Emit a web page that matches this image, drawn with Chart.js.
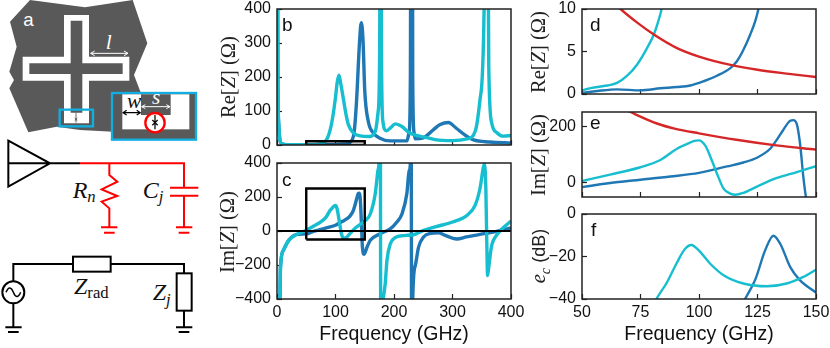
<!DOCTYPE html>
<html>
<head>
<meta charset="utf-8">
<script src="https://cdn.jsdelivr.net/npm/chart.js@4"></script>
<style>
  html, body { margin: 0; padding: 0; background: #fff; }
  #page { position: relative; width: 830px; height: 348px; overflow: hidden; font-family: "Liberation Sans", sans-serif; }
  #page canvas, #schematic { position: absolute; }
  #schematic { left: 0; top: 0; }
  .ylab { position: absolute; white-space: nowrap; transform: translate(-50%, -50%) rotate(-90deg); font: 20.5px "Liberation Serif", serif; color: #222; }
  .ylab i { font-style: italic; }
  .ylab sub { font-size: 14px; line-height: 0; }
  .ylab .sans { font-family: "Liberation Sans", sans-serif; font-size: 18px; }
  .letter { position: absolute; font-size: 19px; line-height: 19px; color: #111; }
</style>
</head>
<body>
<div id="page">
  <svg id="schematic" width="830" height="348" viewBox="0 0 2490 1044" font-family="Liberation Serif, serif" fill="none">
    <!-- chip -->
    <path d="M90 0 L255 22 L398 0 L442 130 L402 225 L425 285 L340 395 L240 390 L170 380 L85 397 L28 265 L42 240 L28 215 L50 140 L30 65 Z" fill="#595959"/>
    <path d="M192 45 H267 V170 H388 V242 H267 V370 H192 V242 H68 V170 H192 Z" fill="#fff"/>
    <path d="M212 62 H247 V190 H368 V222 H247 V338 H212 V222 H88 V190 H212 Z" fill="#595959"/>
    <rect x="179" y="329" width="100" height="50" stroke="#12aee0" stroke-width="7"/>
    <path d="M228 338 V368 M224 354 L232 362 M232 354 L224 362" stroke="#222" stroke-width="2"/>
    <text x="70" y="78" font-family="Liberation Sans, sans-serif" font-size="56" fill="#fff">a</text>
    <text x="317" y="148" font-size="64" font-style="italic" fill="#fff">l</text>
    <path d="M272 160 H384 M284 153 L272 160 L284 167 M372 153 L384 160 L372 167" stroke="#fff" stroke-width="3"/>
    <!-- inset -->
    <rect x="336" y="279" width="252" height="140" fill="#595959" stroke="#12aee0" stroke-width="7"/>
    <rect x="367" y="283" width="201" height="105" fill="#fff"/>
    <rect x="423" y="283" width="89" height="62" fill="#595959"/>
    <circle cx="465" cy="368" r="29" fill="#fff" stroke="#f00" stroke-width="7"/>
    <path d="M465 345 V388 M457 360 L473 376 M473 360 L457 376" stroke="#111" stroke-width="4"/>
    <path d="M369 338 H421 M380 331 L369 338 L380 345 M410 331 L421 338 L410 345" stroke="#000" stroke-width="3.5"/>
    <path d="M425 320 H510 M436 314 L425 320 L436 326 M499 314 L510 320 L499 326" stroke="#fff" stroke-width="3"/>
    <text x="381" y="323" font-size="64" font-style="italic" fill="#111">w</text>
    <text x="456" y="312" font-size="64" font-style="italic" fill="#fff">s</text>
    <!-- antenna + junction circuit -->
    <g transform="translate(0,390)" stroke-width="6">
      <path d="M25 32 L150 100 L25 170 Z M25 100 H240" stroke="#000"/>
      <path d="M240 100 H552 V173 M328 100 V135 L352 155 L305 178 L352 198 L305 215 L328 235 V292 M303 292 H352 M312 308 H344 M510 173 H595 M510 197 H595 M552 197 V292 M528 292 H577 M536 308 H568" stroke="#f00"/>
      <text x="218" y="203" font-size="72" font-style="italic" fill="#111">R<tspan dy="14" font-size="50">n</tspan></text>
      <text x="428" y="203" font-size="72" font-style="italic" fill="#111">C<tspan dy="14" font-size="50">j</tspan></text>
      <!-- source circuit -->
      <path d="M40 454 V402 H219 M332 402 H552 V430 M552 542 V592 M528 592 H577 M536 606 H568 M40 520 V592 M16 592 H65 M24 606 H56" stroke="#000"/>
      <circle cx="40" cy="487" r="33" stroke="#000"/>
      <path d="M18 487 C26 468 34 472 40 487 C46 502 54 506 62 487" stroke="#000" stroke-width="4.5"/>
      <rect x="219" y="380" width="113" height="45" stroke="#000"/>
      <rect x="530" y="430" width="45" height="112" stroke="#000"/>
      <text x="222" y="493" font-size="72" font-style="italic" fill="#111">Z<tspan dy="12" font-size="50" font-style="normal">rad</tspan></text>
      <text x="458" y="510" font-size="72" font-style="italic" fill="#111">Z<tspan dy="14" font-size="50">j</tspan></text>
    </g>
  </svg>

  <canvas id="chartB"></canvas>
  <canvas id="chartC"></canvas>
  <canvas id="chartD"></canvas>
  <canvas id="chartE"></canvas>
  <canvas id="chartF"></canvas>

  <div class="ylab" style="left:228px;top:77px">Re[<i>Z</i>] (Ω)</div>
  <div class="ylab" style="left:227px;top:232px">Im[<i>Z</i>] (Ω)</div>
  <div class="ylab" style="left:538px;top:52px">Re[<i>Z</i>] (Ω)</div>
  <div class="ylab" style="left:538px;top:155px">Im[<i>Z</i>] (Ω)</div>
  <div class="ylab" style="left:538px;top:256px"><i>e<sub>c</sub></i> <span class="sans">(dB)</span></div>

  <div class="letter" style="left:282px;top:15px">b</div>
  <div class="letter" style="left:282px;top:170px">c</div>
  <div class="letter" style="left:590px;top:15px">d</div>
  <div class="letter" style="left:590px;top:113px">e</div>
  <div class="letter" style="left:591px;top:220px">f</div>
</div>

<script>
// tick lists
const ticksWideX = [0, 100, 200, 300, 400];
const ticksZoomX = [50, 75, 100, 125, 150];
const ticksReWide = [0, 100, 200, 300, 400];
const ticksImWide = [-400, -200, 0, 200, 400];
const ticksReZoom = [0, 5, 10];
const ticksImZoom = [0, 200];
const ticksDb = [-40, -20, 0];

// panel b, Re[Z] 0-400 GHz
const reWideCyanF = [0.5, 1.5, 3, 5, 8, 12, 20, 35, 50, 60, 70, 75, 80, 82, 86, 91, 96, 100, 103, 106, 109, 114, 118, 122, 131, 142, 159, 168, 173, 175.5, 177, 178.5, 181, 187, 195, 202, 213, 227, 244, 250, 270, 300, 325, 339, 347, 354, 357.5, 362, 367, 376, 387, 400];
const reWideCyanV = [900, 200, 60, 15, 4, 2, 1, 0.8, 0.4, 1, 2.2, 4, 7, 10, 20, 45, 90, 140, 185, 205, 180, 130, 90, 60, 35, 27, 25, 40, 100, 280, 1600, 280, 70, 42, 52, 62, 55, 35, 26, 24, 16, 13, 18, 41, 133, 400, 1500, 230, 65, 36, 26, 28];
const reWideBlueF = [0.5, 1.5, 3, 5, 8, 12, 20, 35, 50, 70, 90, 100, 113, 120, 125, 132, 136, 141, 144, 147, 150, 156, 165, 176, 193, 222, 226, 228, 230, 232, 234, 236, 250, 268, 279, 293, 306, 320, 336, 364, 400];
const reWideBlueV = [900, 200, 60, 15, 4, 2, 1, 0.8, 0.1, 0.5, 0.7, 1, 3, 4, 8, 40, 130, 300, 360, 310, 160, 70, 35, 20, 12, 12, 40, 200, 2500, 200, 40, 18, 21, 46, 60, 66, 50, 31, 15, 9, 6];
const markBandF = [50, 50, 150, 150, 50];
const markBandV = [0, 11, 11, 0, 0];

// panel c, Im[Z] 0-400 GHz
const imWideCyanF = [2, 5, 6, 11, 20, 34, 50, 62, 75, 83.5, 90.6, 96, 98, 99.9, 102.7, 105.5, 107.7, 110.5, 113.4, 115.5, 119, 125, 133, 141.8, 150, 159.5, 168, 172.6, 175, 176.5, 177.5, 179, 181.5, 185, 188, 193.7, 202, 216.5, 233.5, 250.5, 270, 300, 325, 338.6, 347, 353, 354.5, 357, 358.5, 360, 362.3, 367, 375, 384, 392.6, 400];
const imWideCyanV = [-1000, -400, -210, -113, -55, -20, 5, 28, 54, 80, 120, 141, 148, 150, 131, 78, 31, -22, -40, -44, -37, -14, 15, 37, 58, 100, 220, 356, 450, 1000, -1000, -500, -400, -310, -172, -75, -39, -27, -22, 4, 24, 53, 93, 151, 250, 378, 392, 250, -45, -262, -203, -85, -26, 10, 37, 59];
const imWideBlueF = [2, 5, 6, 11, 20, 34, 50, 62, 75, 87.8, 100, 112, 119, 125, 130.4, 133, 136, 139, 140.3, 141.8, 143.2, 144.6, 146, 149, 154, 159.5, 176.6, 194, 205, 213.6, 222, 226, 228, 229, 230.5, 232, 236.4, 242, 250.5, 262, 276, 287.5, 307, 324, 347, 375, 400];
const imWideBlueV = [-1000, -400, -210, -113, -55, -20, -17, -2, 9.5, 21, 34, 57, 71, 89, 120, 149, 187, 220, 222, 208, 137, 19, -94, -137, -94, -55, -16, 14, 53, 100, 220, 356, 400, 1200, -1200, -400, -203, -95, -35, -14, -10, -26, -47, -35, -20, -2, 18];
const zeroLineF = [0, 400];
const zeroLineV = [0, 0];
const boxF = [50, 150, 150, 50, 50];
const boxV = [-50, -50, 250, 250, -50];

// panel d, Re[Z] 50-150 GHz
const reZoomCyanF = [50, 53.7, 60.8, 65, 69.3, 73.5, 77.8, 80.7, 82.8, 84, 86];
const reZoomCyanV = [0.43, 0.7, 1.0, 1.3, 2.15, 3.45, 5.4, 7, 8.75, 10, 14];
const reZoomBlueF = [50, 56.5, 65, 75, 83.5, 90.6, 96.3, 102, 107.7, 113.4, 116.2, 119, 121.9, 124, 125.4, 128];
const reZoomBlueV = [0.12, 0.35, 0.55, 0.43, 0.67, 0.82, 1, 1.5, 2.15, 3.05, 3.85, 5.2, 7, 8.55, 10, 14];
const reZoomRedF = [60, 66.5, 73.6, 80.7, 90.6, 100, 113, 125, 137.5, 150];
const reZoomRedV = [11.8, 10, 8.4, 7, 5.4, 4.4, 3.45, 2.85, 2.4, 2];

// panel e, Im[Z] 50-150 GHz
const imZoomCyanF = [50, 62, 75, 83.5, 90.6, 96, 98, 99.9, 102.7, 105.5, 107.7, 110.5, 113.4, 115.5, 119, 125, 133, 141.8, 150];
const imZoomCyanV = [5, 28, 54, 80, 120, 141, 148, 150, 131, 78, 31, -22, -40, -44, -37, -14, 15, 37, 58];
const imZoomBlueF = [50, 62, 75, 87.8, 100, 112, 119, 125, 130.4, 133, 136, 139, 140.3, 141.8, 143.2, 144.6, 145.7, 147];
const imZoomBlueV = [-17, -2, 9.5, 21, 34, 57, 71, 89, 120, 149, 187, 220, 222, 208, 137, 19, -52, -90];
const imZoomRedF = [66, 70.7, 82, 90, 100, 116, 133, 150];
const imZoomRedV = [270, 251, 210, 191, 175, 152, 132, 117];

// panel f, coupling efficiency
const dbCyanF = [79, 81.8, 86.4, 90.6, 94, 96.7, 99.8, 104.8, 110.5, 119, 129, 137.5, 144.6, 150];
const dbCyanV = [-46, -40, -32, -22.8, -16.5, -14.6, -17, -23.4, -28.8, -32.7, -34, -32.7, -29.6, -26.2];
const dbBlueF = [118, 119.7, 124, 128.3, 131.8, 134.7, 139, 143, 150];
const dbBlueV = [-44, -40, -31, -17, -10.2, -14, -25, -31, -37];

const CYAN = '#17becf';
const BLUE = '#1f77b4';
const RED = '#d62728';
const INK = '#222222';

const zip = (xs, ys) => xs.map((x, i) => ({ x, y: ys[i] }));

const curve = (xs, ys, color, width) => ({
    data: zip(xs, ys),
    borderColor: color,
    borderWidth: width,
    cubicInterpolationMode: 'monotone',
    pointRadius: 0,
    clip: 0
});

const outline = (xs, ys, width, extra = {}) => ({
    data: zip(xs, ys),
    borderColor: '#000',
    borderWidth: width,
    pointRadius: 0,
    clip: 0,
    ...extra
});

const framePlugin = {
    id: 'frame',
    afterDraw(chart) {
        const { ctx, chartArea: a } = chart;
        ctx.save();
        ctx.strokeStyle = INK;
        ctx.lineWidth = 1.5;
        ctx.strokeRect(a.left, a.top, a.right - a.left, a.bottom - a.top);
        ctx.restore();
    }
};

const MARGIN = { left: 50, top: 12, right: 26 };

function panel(id, box, cfg) {
    const canvas = document.getElementById(id);
    const bottomSpace = cfg.xLabels ? 348 - box.bottom : 4;
    const width = box.right - box.left + MARGIN.left + MARGIN.right;
    const height = box.bottom - box.top + MARGIN.top + bottomSpace;
    canvas.width = width;
    canvas.height = height;
    canvas.style.left = (box.left - MARGIN.left) + 'px';
    canvas.style.top = (box.top - MARGIN.top) + 'px';

    const tickGrid = { drawOnChartArea: false, tickLength: -5, tickWidth: 1.2, tickColor: INK };
    const tickFont = { family: '"Liberation Sans", sans-serif', size: 16 };

    return new Chart(canvas, {
        type: 'line',
        data: { datasets: cfg.datasets },
        plugins: [framePlugin],
        options: {
            responsive: false,
            animation: false,
            devicePixelRatio: 1,
            layout: { padding: { left: 0, top: MARGIN.top, right: MARGIN.right, bottom: 0 } },
            plugins: { legend: { display: false }, tooltip: { enabled: false } },
            scales: {
                x: {
                    type: 'linear',
                    min: cfg.xRange[0],
                    max: cfg.xRange[1],
                    border: { display: false },
                    grid: tickGrid,
                    afterBuildTicks(s) { s.ticks = cfg.xTicks.map(value => ({ value })); },
                    afterFit(s) { s.height = bottomSpace; s.paddingLeft = 0; s.paddingRight = 0; },
                    ticks: { display: !!cfg.xLabels, color: '#111', font: tickFont, padding: 9, maxRotation: 0, autoSkip: false },
                    title: {
                        display: !!cfg.xLabels,
                        text: 'Frequency (GHz)',
                        color: '#111',
                        font: { family: '"Liberation Sans", sans-serif', size: 19.5 },
                        padding: { top: 0, bottom: 2 }
                    }
                },
                y: {
                    type: 'linear',
                    min: cfg.yRange[0],
                    max: cfg.yRange[1],
                    border: { display: false },
                    grid: tickGrid,
                    afterBuildTicks(s) { s.ticks = cfg.yTicks.map(value => ({ value })); },
                    afterFit(s) { s.width = MARGIN.left; s.paddingTop = 0; s.paddingBottom = 0; },
                    ticks: {
                        color: '#111',
                        font: tickFont,
                        padding: 11,
                        autoSkip: false,
                        callback: v => (v < 0 ? '\u2212' + Math.abs(v) : String(v))
                    }
                }
            }
        }
    });
}

panel('chartB', { left: 276.5, top: 9, right: 511, bottom: 145.5 }, {
    xRange: [0, 400], yRange: [0, 400], xTicks: ticksWideX, yTicks: ticksReWide,
    datasets: [
        outline(markBandF, markBandV, 2.4, { fill: 'origin', backgroundColor: 'rgba(110,110,110,0.55)' }),
        curve(reWideCyanF, reWideCyanV, CYAN, 3.4),
        curve(reWideBlueF, reWideBlueV, BLUE, 3.4)
    ]
});

panel('chartC', { left: 276.5, top: 162.5, right: 511, bottom: 299 }, {
    xRange: [0, 400], yRange: [-400, 400], xTicks: ticksWideX, yTicks: ticksImWide, xLabels: true,
    datasets: [
        outline(zeroLineF, zeroLineV, 2.2),
        outline(boxF, boxV, 2.4),
        curve(imWideCyanF, imWideCyanV, CYAN, 3.4),
        curve(imWideBlueF, imWideBlueV, BLUE, 3.4)
    ]
});

panel('chartD', { left: 581.5, top: 9, right: 816, bottom: 94 }, {
    xRange: [50, 150], yRange: [0, 10], xTicks: ticksZoomX, yTicks: ticksReZoom,
    datasets: [
        curve(reZoomRedF, reZoomRedV, RED, 2.4),
        curve(reZoomCyanF, reZoomCyanV, CYAN, 2.4),
        curve(reZoomBlueF, reZoomBlueV, BLUE, 2.4)
    ]
});

panel('chartE', { left: 581.5, top: 111.5, right: 816, bottom: 196.5 }, {
    xRange: [50, 150], yRange: [-52, 251], xTicks: ticksZoomX, yTicks: ticksImZoom,
    datasets: [
        curve(imZoomRedF, imZoomRedV, RED, 2.4),
        curve(imZoomCyanF, imZoomCyanV, CYAN, 2.4),
        curve(imZoomBlueF, imZoomBlueV, BLUE, 2.4)
    ]
});

panel('chartF', { left: 581.5, top: 214, right: 816, bottom: 299 }, {
    xRange: [50, 150], yRange: [-40, 0], xTicks: ticksZoomX, yTicks: ticksDb, xLabels: true,
    datasets: [
        curve(dbCyanF, dbCyanV, CYAN, 2.4),
        curve(dbBlueF, dbBlueV, BLUE, 2.4)
    ]
});
</script>
</body>
</html>
